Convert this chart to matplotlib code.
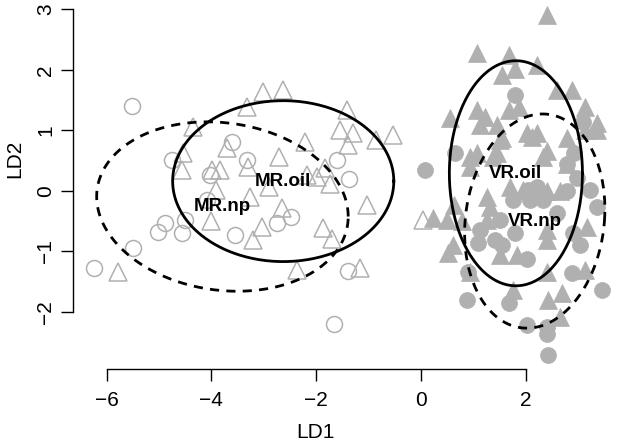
import numpy as np
import matplotlib
matplotlib.use("Agg")
import matplotlib.pyplot as plt

plt.rcParams['font.family'] = ['Liberation Sans', 'DejaVu Sans']

# MR.np - open circles
mr_np_x = [-5.52, -6.25, -5.50, -4.76, -3.61, -3.33, -4.03, -4.09, -5.01, -4.89,
           -4.57, -4.50, -3.55, -2.75, -2.48, -1.60, -1.38, -1.40, -1.66]
mr_np_y = [1.40, -1.28, -0.95, 0.51, 0.81, 0.51, 0.26, -0.15, -0.68, -0.54,
           -0.70, -0.48, -0.73, -0.54, -0.43, 0.51, 0.20, -1.32, -2.20]

# MR.oil - open triangles
mr_oil_x = [-3.01, -2.63, -3.33, -4.35, -4.54, -3.71, -4.57, -3.99, -3.84, -3.30,
            -2.72, -2.21, -3.91, -2.91, -3.26, -2.66, -4.01, -3.04, -3.20, -5.78,
            -1.42, -1.55, -1.29, -1.39, -0.85, -0.53, -2.18, -1.99, -1.83, -1.74,
            -1.04, -1.88, -1.69, -2.37, -1.16, 0.04]
mr_oil_y = [1.64, 1.67, 1.38, 1.05, 0.63, 0.70, 0.34, 0.34, 0.34, 0.40,
            0.56, 0.81, 0.01, 0.07, -0.10, -0.29, -0.50, -0.59, -0.81, -1.34,
            1.34, 1.00, 0.95, 0.76, 0.84, 0.92, 0.26, 0.23, 0.37, 0.12,
            -0.23, -0.62, -0.79, -1.31, -1.28, -0.48]

# VR.oil - filled triangles
vr_oil_x = [2.40, 1.07, 1.67, 1.79, 1.54, 2.21, 2.59, 2.88, 3.13, 3.35,
            1.06, 1.22, 1.67, 1.86, 0.55, 1.13, 1.44, 2.02, 2.21, 2.78,
            3.13, 3.35, 1.06, 1.44, 1.54, 2.40, 2.78, 0.94, 1.70, 1.95,
            2.40, 2.65, 1.25, 1.32, 0.23, 0.49, 0.62, 1.25, 2.40, 3.16,
            0.52, 1.51, 1.83, 2.40, 2.40, 3.13, 1.76, 2.43, 2.69, 2.65,
            0.94, 0.78, 0.61, 2.12, 1.51, 2.33, 0.94, 1.37]
vr_oil_y = [2.90, 2.27, 2.24, 2.02, 1.91, 2.08, 1.67, 1.67, 1.39, 1.12,
            1.34, 1.22, 1.34, 1.39, 1.20, 1.09, 1.09, 0.95, 0.95, 0.87,
            1.00, 1.00, 0.62, 0.62, 0.87, 0.65, 0.45, 0.40, 0.07, 0.01,
            -0.01, -0.01, -0.10, -0.26, -0.45, -0.48, -0.23, -0.48, -0.65, -0.59,
            -1.03, -1.06, -1.06, -0.81, -1.34, -1.31, -1.64, -1.81, -1.69, -2.08,
            -1.34, -0.50, -0.90, 0.89, 0.84, 0.56, 0.56, 0.56]

# VR.np - filled circles
vr_np_x = [1.79, 3.10, 0.08, 0.65, 2.78, 2.97, 2.78, 3.23, 3.35, 1.76,
           2.05, 2.08, 1.51, 1.13, 2.59, 2.91, 1.54, 2.02, 0.90, 2.88,
           3.03, 3.45, 0.87, 1.67, 2.02, 2.40, 2.40, 2.43, 1.79, 2.33,
           2.21, 2.90, 1.09, 1.41]
vr_np_y = [1.58, 1.14, 0.34, 0.62, 0.45, 0.21, -0.01, 0.01, -0.26, -0.15,
           0.01, -0.15, -0.48, -0.65, -0.37, 0.62, -0.90, -1.12, -1.34, -1.36,
           -0.90, -1.64, -1.81, -1.86, -2.22, -2.25, -2.36, -2.71, -0.70, -0.15,
           0.06, -0.70, -0.86, -0.81]

# group ellipses: centre, half widths, shear
ell_names = ['MR.oil', 'MR.np', 'VR.oil', 'VR.np']
ell_cx = [-2.63, -3.79, 1.81, 2.17]
ell_cy = [0.16, -0.26, 0.29, -0.50]
ell_a = [2.11, 2.40, 1.27, 1.33]
ell_b = [1.33, 1.39, 1.86, 1.77]
ell_sx = [0.0, 0.0, 0.0, 0.15]
ell_sy = [0.0, -0.165, 0.0, 0.0]
ell_ls = ['-', (0, (3.3, 2.6)), '-', (0, (3.3, 2.6))]

grey = '#B0B0B0'

fig = plt.figure(figsize=(6.22, 4.47), dpi=100)
ax = fig.add_axes([0.1169, 0.1745, 0.880, 0.8143])

ax.plot(mr_np_x, mr_np_y, 'o', ms=11.5, mfc='none', mec=grey, mew=1.1, ls='none')
ax.plot(mr_oil_x, mr_oil_y, '^', ms=13, mfc='none', mec=grey, mew=1.1, ls='none')
ax.plot(vr_np_x, vr_np_y, 'o', ms=11.5, mfc=grey, mec=grey, mew=0.5, ls='none')
ax.plot(vr_oil_x, vr_oil_y, '^', ms=13, mfc=grey, mec=grey, mew=0.5, ls='none')

t = np.linspace(0, 2 * np.pi, 300)
for i, name in enumerate(ell_names):
    ex = ell_cx[i] + ell_a[i] * np.cos(t) + ell_sx[i] * np.sin(t)
    ey = ell_cy[i] + ell_b[i] * np.sin(t) + ell_sy[i] * np.cos(t)
    ax.plot(ex, ey, color='black', lw=2.0, ls=ell_ls[i])
    ax.text(ell_cx[i], ell_cy[i], name, ha='center', va='center',
            fontsize=13.5, fontweight='bold')

ax.set_xlim(-6.647, 3.798)
ax.set_ylim(-2.945, 3.071)
ax.set_xticks([-6, -4, -2, 0, 2])
ax.set_yticks([-2, -1, 0, 1, 2, 3])
for s in ['top', 'right']:
    ax.spines[s].set_visible(False)
ax.spines['left'].set_bounds(-2, 3)
ax.spines['bottom'].set_bounds(-6, 2)
ax.spines['left'].set_linewidth(1.0)
ax.spines['bottom'].set_linewidth(1.0)
ax.tick_params(direction='out', length=8.6, width=1.0, labelsize=15)
ax.tick_params(axis='x', pad=7)
ax.tick_params(axis='y', pad=4, labelrotation=90)
for lab in ax.get_yticklabels():
    lab.set_va('center')

fig.text(315 / 622, 1 - 433 / 447, 'LD1', ha='center', va='center', fontsize=15)
fig.text(14.5 / 622, 1 - 158.5 / 447, 'LD2', ha='center', va='center',
         fontsize=15, rotation=90)

fig.savefig('out.png', dpi=100)
